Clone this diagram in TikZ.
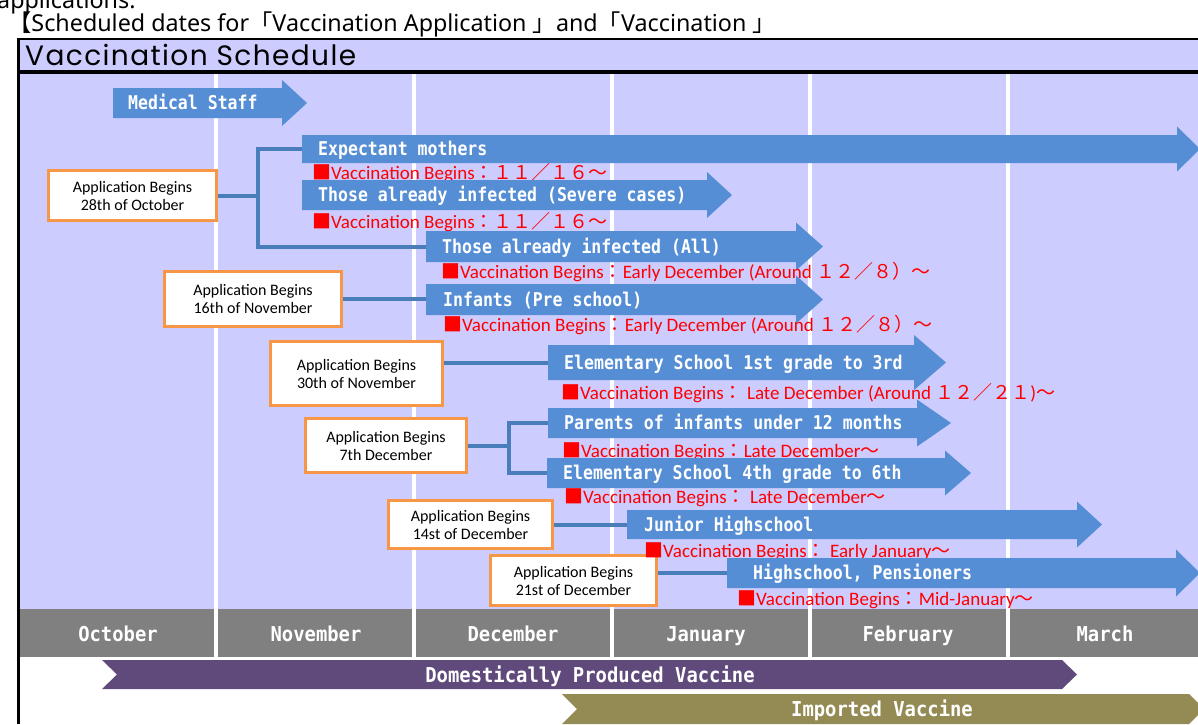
\documentclass[tikz,border=0pt]{standalone}
\usepackage{fontspec}
\setmainfont{Carlito}
\newfontfamily\cjk{Noto Sans CJK JP}
\newfontfamily\headfont{Noto Sans}
\newfontfamily\titlefont[LetterSpace=5]{Poppins}
\newfontfamily\arrowfont[FakeStretch=0.87]{DejaVu Sans Mono Bold}
\newfontfamily\monthfont[FakeStretch=0.92]{DejaVu Sans Mono Bold}
\definecolor{lav}{HTML}{CCCCFF}
\definecolor{ablue}{HTML}{558ED5}
\definecolor{cblue}{HTML}{4A7EBB}
\definecolor{mgrey}{HTML}{808080}
\definecolor{orng}{HTML}{F79646}
\definecolor{purp}{HTML}{604A7B}
\definecolor{olivec}{HTML}{948A54}
\definecolor{vred}{HTML}{FF0000}
\newcommand\blockarrow[7]{%
  \fill[ablue] (#2,#5-#6) -- (#3,#5-#6) -- (#3,#5-#7) -- (#4,#5) -- (#3,#5+#7) -- (#3,#5+#6) -- (#2,#5+#6) -- cycle;
  \coordinate (#1) at (#2,#5);}
\newcommand\fw[1]{{\cjk #1}}
\newcommand\hb[1]{{\cjk #1}}
\newcommand\vb{\fw{■}Vaccination Begins}
\tikzset{
  appbox/.style={draw=orng, line width=3pt, fill=white, align=center, inner sep=0pt,
    font=\fontsize{16}{18}\selectfont},
  conn/.style={draw=cblue, line width=4pt},
  atext/.style={text=white, anchor=west, inner sep=0pt, text height=13.8pt, text depth=0pt,
    font=\arrowfont\fontsize{19}{19}\selectfont},
  vlabel/.style={text=vred, anchor=west, inner sep=0pt, text height=12.5pt, text depth=0pt,
    font=\fontsize{19}{19}\selectfont},
  mtext/.style={text=white, inner sep=0pt, text height=15pt, text depth=0pt,
    font=\monthfont\fontsize{20.5}{20}\selectfont},
  headtext/.style={anchor=base west, inner sep=0pt, font=\headfont\fontsize{23.3}{23}\selectfont}
}
\begin{document}
\begin{tikzpicture}[x=1pt,y=-1pt]
\useasboundingbox (0,0) rectangle (1198,724);
% header texts
\node[headtext] (app) at (-3,8) {applications.};
\node[headtext] (hdr) at (8,31) {\hb{【}Scheduled dates for\hb{「}Vaccination Application \hb{」}and\hb{「}Vaccination \hb{」}};
% frame and backgrounds
\fill[lav] (20,39.5) rectangle (1198,70);
\fill[black] (18,70) rectangle (1198,74);
\fill[lav] (20,74) rectangle (1198,609);
\fill[mgrey] (20,609) rectangle (1198,657);
\draw[line width=2pt] (17.5,38.5) -- (1198,38.5);
\draw[line width=2.6pt] (18.5,38) -- (18.5,724);
\node[anchor=base west, inner sep=0pt, font=\titlefont\fontsize{28}{28}\selectfont] (title) at (25,65) {Vaccination Schedule};
\foreach \x in {216,414,612,810,1008} \fill[white] (\x-2.2,74) rectangle (\x+2.2,657);
% months
\node[mtext] (m1) at (118,634) {October};
\node[mtext] (m2) at (316,634) {November};
\node[mtext] (m3) at (513,634) {December};
\node[mtext] (m4) at (706,634) {January};
\node[mtext] (m5) at (908,634) {February};
\node[mtext] (m6) at (1105,634) {March};
% vaccine bars
\fill[purp] (102,660) -- (1062,660) -- (1077,674.5) -- (1062,689) -- (102,689) -- (117,674.5) -- cycle;
\node[mtext] (dom) at (590,675) {Domestically Produced Vaccine};
\fill[olivec] (562,694) -- (1189,694) -- (1204,709) -- (1189,724) -- (562,724) -- (577,709) -- cycle;
\node[mtext] (imp) at (882,709) {Imported Vaccine};
% application boxes
\node[appbox, minimum width=168pt, minimum height=50pt] (b1) at (132.5,195.5) {Application Begins\\28th of October};
\node[appbox, minimum width=177pt, minimum height=55pt] (b2) at (253,299) {Application Begins\\16th of November};
\node[appbox, minimum width=172pt, minimum height=64pt] (b3) at (356.5,373.5) {Application Begins\\30th of November};
\node[appbox, minimum width=161pt, minimum height=54pt] (b4) at (386,445.5) {Application Begins\\7th December};
\node[appbox, minimum width=164pt, minimum height=48pt] (b5) at (470.5,524.5) {Application Begins\\14st of December};
\node[appbox, minimum width=166pt, minimum height=50pt] (b6) at (573.5,580.5) {Application Begins\\21st of December};
% arrows and labels
\blockarrow{a1}{113}{282}{307}{103}{15}{23}
\node[atext] (t1) at ([xshift=15pt]a1) {Medical Staff};
\blockarrow{a2}{302}{1177}{1200}{149}{14}{22.5}
\node[atext] (t2) at ([xshift=16pt]a2) {Expectant mothers};
\node[vlabel] (l1) at (312,173) {\vb\fw{：１１／１６～}};
\blockarrow{a3}{302}{707}{732}{195}{15}{23}
\node[atext] (t3) at ([xshift=16pt]a3) {Those already infected (Severe cases)};
\node[vlabel] (l2) at (312,222) {\vb\fw{：１１／１６～}};
\blockarrow{a4}{426}{796}{823}{246.5}{15.5}{24}
\node[atext] (t4) at ([xshift=16pt]a4) {Those already infected (All)};
\node[vlabel] (l3) at (441,272) {\vb\fw{：}Early December (Around \fw{１２／８）～}};
\blockarrow{a5}{426}{796}{823}{299.5}{15.5}{24}
\node[atext] (t5) at ([xshift=17pt]a5) {Infants (Pre school)};
\node[vlabel] (l4) at (443,325) {\vb\fw{：}Early December (Around \fw{１２／８）～}};
\blockarrow{a6}{548}{914}{946}{362.5}{17.5}{27.5}
\node[atext] (t6) at ([xshift=16pt]a6) {Elementary School 1st grade to 3rd};
\node[vlabel] (l5) at (561,393) {\vb\fw{：} Late December (Around \fw{１２／２１})\fw{～}};
\blockarrow{a7}{548}{917}{951}{423}{15}{23.5}
\node[atext] (t7) at ([xshift=16pt]a7) {Parents of infants under 12 months};
\node[vlabel] (l6) at (562,451) {\vb\fw{：}Late December\fw{～}};
\blockarrow{a8}{547}{945}{971}{473}{15}{22.5}
\node[atext] (t8) at ([xshift=16pt]a8) {Elementary School 4th grade to 6th};
\node[vlabel] (l7) at (564,497) {\vb\fw{：} Late December\fw{～}};
\blockarrow{a9}{627}{1077}{1102}{524.5}{14.5}{23}
\node[atext] (t9) at ([xshift=17pt]a9) {Junior Highschool};
\node[vlabel] (l8) at (644,551) {\vb\fw{：} Early January\fw{～}};
\blockarrow{a10}{727}{1176}{1200}{573}{15}{23.5}
\node[atext] (t10) at ([xshift=26pt]a10) {Highschool, Pensioners};
\node[vlabel] (l9) at (737,599) {\vb\fw{：}Mid-January\fw{～}};
% connectors
\coordinate (j1) at (258,195.5);
\draw[conn] (b1.east) -- (j1);
\draw[conn] (a2) -| (j1);
\draw[conn] (a4) -| (j1);
\draw[conn] (b2.east) -- (b2.east -| a5);
\draw[conn] (a6) -- (a6 -| b3.east);
\coordinate (j4) at (509,445.5);
\draw[conn] (b4.east) -- (j4);
\draw[conn] (a7) -| (j4);
\draw[conn] (a8) -| (j4);
\draw[conn] (b5.east) -- (b5.east -| a9);
\draw[conn] (a10) -- (a10 -| b6.east);
\end{tikzpicture}
\end{document}
